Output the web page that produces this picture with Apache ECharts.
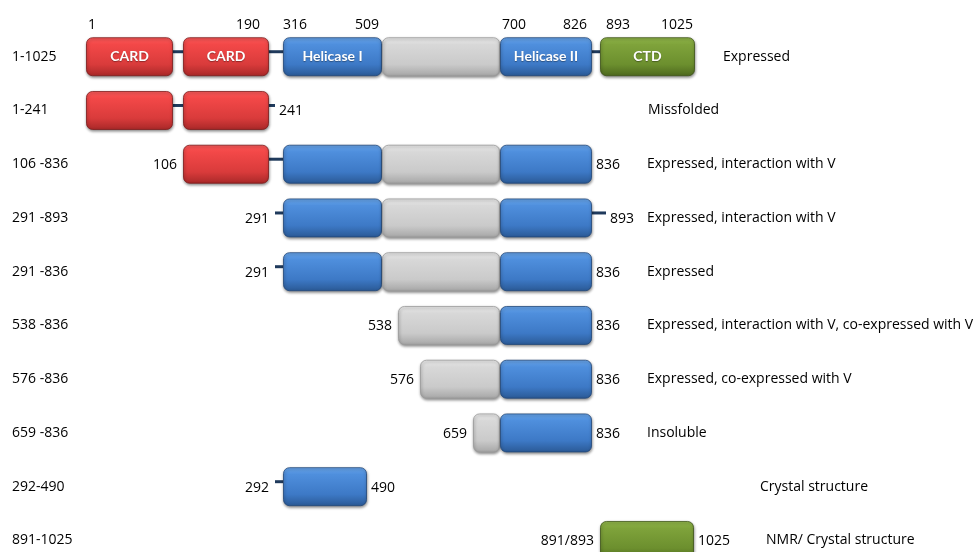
<!DOCTYPE html>
<html><head><meta charset="utf-8">
<script src="https://cdn.jsdelivr.net/npm/echarts@6/dist/echarts.min.js"></script>
<style>html,body{margin:0;padding:0;background:#fff}#c{width:976px;height:552px}</style>
</head><body><div id="c"></div>
<script>
// construct names (rows)
const rowLabels = ['1-1025','1-241','106 -836','291 -893','291 -836','538 -836','576 -836','659 -836','292-490','891-1025'];
// outcome for each construct
const statusLabels = ['Expressed','Missfolded','Expressed, interaction with V','Expressed, interaction with V','Expressed',
  'Expressed, interaction with V, co-expressed with V','Expressed, co-expressed with V','Insoluble','Crystal structure','NMR/ Crystal structure'];
// residue numbers at construct ends
const startLabels = ['','','106','291','291','538','576','659','292','891/893'];
const endLabels = ['','241','836','893','836','836','836','836','490','1025'];
// domain boundary residues of the full-length protein (top labels)
const topResidues = ['1','190','316','509','700','826','893','1025'];
// schematic (diagram-unit) positions of those boundary labels
const topResiduePos = [92,248,295,367,514,575,618,677];
// domain boxes in schematic units: [row, start, end, kind, name]
const boxes = [
 [0,86,173,'card','CARD'],[0,183,269,'card','CARD'],[0,283,382,'hel','Helicase I'],[0,382,500,'gap',''],[0,500,592,'hel','Helicase II'],[0,600,695,'ctd','CTD'],
 [1,86,173,'card',''],[1,183,269,'card',''],
 [2,183,269,'card',''],[2,283,382,'hel',''],[2,382,500,'gap',''],[2,500,592,'hel',''],
 [3,283,382,'hel',''],[3,382,500,'gap',''],[3,500,592,'hel',''],
 [4,283,382,'hel',''],[4,382,500,'gap',''],[4,500,592,'hel',''],
 [5,398,500,'gap',''],[5,500,592,'hel',''],
 [6,420,500,'gap',''],[6,500,592,'hel',''],
 [7,473,500,'gap',''],[7,500,592,'hel',''],
 [8,283,367,'hel',''],
 [9,600,694,'ctd','']
];
// linker segments: [row, start, end]
const linkers = [[0,173,183],[0,269,283],[0,592,600],[1,173,183],[1,269,275],[2,269,283],
 [3,275,283],[3,592,606],[4,275,283],[8,275,283]];
// schematic x of the outcome text
const statusPos = [723,648,647,647,647,647,647,647,760,766];
const rowIndex = rowLabels.map((_, i) => i);

const FONT = '"Open Sans"';
const FS = 14;
const palette = {
  card: {stops:['#ff5c5c','#f34848','#d93b3b','#a82828'], stroke:'#7e1c1c'},
  hel:  {stops:['#6caaf0','#4f8fdd','#3d79c6','#2a5995'], stroke:'#22487a'},
  gap:  {stops:['#f0f0f0','#d8d8d8','#cacaca','#a6a6a6'], stroke:'#9a9a9a'},
  ctd:  {stops:['#95bb4c','#7fa33b','#6c8f2e','#4d681e'], stroke:'#3e5418'}
};
function grad(k){
  const s = palette[k].stops;
  return new echarts.graphic.LinearGradient(0,0,0,1,[
    {offset:0,color:s[0]},{offset:0.18,color:s[1]},{offset:0.7,color:s[2]},{offset:1,color:s[3]}]);
}

// extents per row for end labels
const extent = rowLabels.map((_, r) => {
  let mn = Infinity, mx = -Infinity;
  boxes.concat(linkers).forEach(b => { if (b[0] === r) { mn = Math.min(mn, b[1]); mx = Math.max(mx, b[2]); } });
  return [mn, mx];
});
const endData = [];
rowLabels.forEach((_, r) => {
  if (startLabels[r]) endData.push([r, extent[r][0], startLabels[r], 'right']);
  if (endLabels[r]) endData.push([r, extent[r][1], endLabels[r], 'left']);
});

const chart = echarts.init(document.getElementById('c'), null, {renderer:'canvas'});
chart.setOption({
  animation: false,
  grid: {left:0, right:0, top:32, bottom:0},
  xAxis: {
    type:'value', min:0, max:976, position:'top',
    axisLine:{show:false}, axisTick:{show:false}, splitLine:{show:false},
    axisLabel:{
      customValues: topResiduePos,
      formatter: v => topResidues[topResiduePos.indexOf(v)],
      fontFamily: FONT, fontSize: FS, color:'#000', margin: 0
    }
  },
  yAxis: {
    type:'value', inverse:true, min:-0.46, max:9.215,
    axisLine:{show:false}, axisTick:{show:false}, splitLine:{show:false},
    axisLabel:{inside:true, margin:12, fontFamily:FONT, fontSize:FS, color:'#000',
      customValues: rowIndex, formatter: v => rowLabels[v]}
  },
  series: [
    {
      type:'custom', name:'linkers', data: linkers,
      encode:{x:[1,2], y:0},
      renderItem(params, api){
        const r = api.value(0);
        const a = api.coord([api.value(1), r]);
        const b = api.coord([api.value(2), r]);
        return {type:'line', shape:{x1:a[0], y1:a[1]-5, x2:b[0], y2:b[1]-5},
          style:{stroke:'#1f3a5c', lineWidth:3}};
      }
    },
    {
      type:'custom', name:'domains', data: boxes.map(b => [b[0], b[1], b[2]]),
      encode:{x:[1,2], y:0},
      renderItem(params, api){
        const box = boxes[params.dataIndex];
        const r = api.value(0);
        const a = api.coord([api.value(1), r]);
        const b = api.coord([api.value(2), r]);
        const h = 38;
        const k = box[3];
        const children = [{
          type:'rect',
          shape:{x:a[0]+0.5, y:a[1]-h/2, width:b[0]-a[0]-1, height:h, r:6},
          style:{fill:grad(k), stroke:palette[k].stroke, lineWidth:0.8,
            shadowBlur:3, shadowOffsetY:1.5, shadowOffsetX:0.5, shadowColor:'rgba(0,0,0,0.45)'}
        }];
        if (box[4]) children.push({
          type:'text',
          style:{x:(a[0]+b[0])/2, y:a[1], text:box[4], fill:'#fff', align:'center', verticalAlign:'middle',
            font:'bold 14px Lato', textShadowColor:'rgba(0,0,0,0.35)', textShadowBlur:1, textShadowOffsetY:1}
        });
        return {type:'group', children};
      }
    },
    {
      type:'custom', name:'ends', data: endData.map(d => [d[0], d[1]]),
      encode:{x:1, y:0},
      renderItem(params, api){
        const d = endData[params.dataIndex];
        const p = api.coord([api.value(1), api.value(0)]);
        const left = d[3] === 'right';
        return {type:'text', style:{x: left ? p[0]-6 : p[0]+4, y:p[1]+1, text:d[2], fill:'#000',
          align:d[3], verticalAlign:'middle', font:FS + 'px ' + FONT}};
      }
    },
    {
      type:'custom', name:'status', data: statusPos.map((x, r) => [r, x]),
      encode:{x:1, y:0},
      renderItem(params, api){
        const p = api.coord([api.value(1), api.value(0)]);
        return {type:'text', style:{x:p[0], y:p[1], text:statusLabels[params.dataIndex], fill:'#000',
          align:'left', verticalAlign:'middle', font:FS + 'px ' + FONT}};
      }
    }
  ]
});
</script></body></html>
